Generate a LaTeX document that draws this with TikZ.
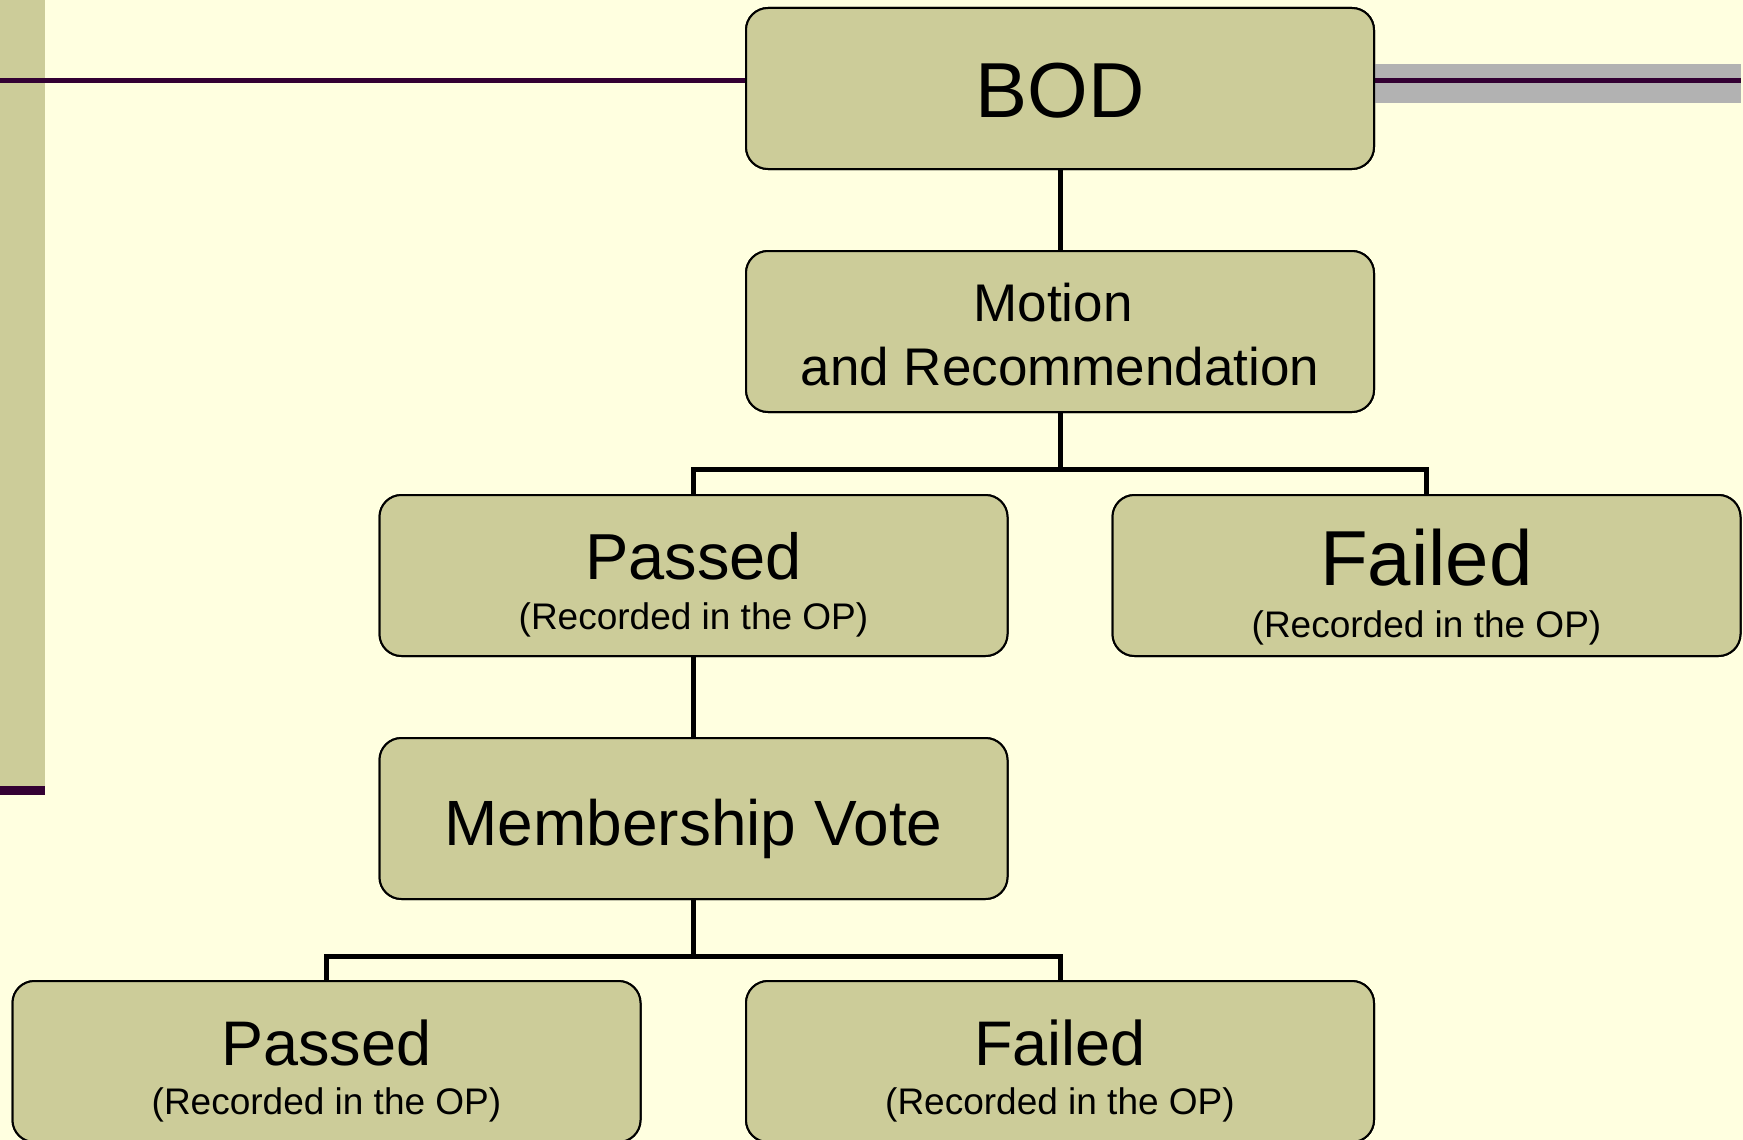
\documentclass[tikz,border=0pt]{standalone}
\usepackage{fontspec}
\setmainfont{Liberation Sans}
\definecolor{bgc}{HTML}{FFFFE0}
\definecolor{olivefill}{HTML}{CCCC99}
\definecolor{plum}{HTML}{330033}
\definecolor{bandgrey}{HTML}{B2B2B2}
\tikzset{
  box/.style={draw=black, line width=2pt, fill=olivefill, rounded corners=22pt,
    minimum width=628pt, minimum height=161pt, inner sep=0pt},
  conn/.style={draw=black, line width=5pt},
  txt/.style={anchor=base, inner sep=0pt, text=black},
  rule/.style={draw=plum, line width=5pt},
}
\newcommand{\fs}[1]{\fontsize{#1}{#1}\selectfont}
\begin{document}
\begin{tikzpicture}[x=1pt, y=-1pt]
\useasboundingbox (0,0) rectangle (1743,1140);
\clip (0,0) rectangle (1743,1140);
\fill[bgc] (0,0) rectangle (1743,1140);
% left decoration
\fill[olivefill] (0,0) rectangle (45,786);
\fill[plum] (0,786) rectangle (45,795);
% boxes (positions)
\node[box] (bod) at (1060,88.5) {};
\node[box] (mot) at (1060,331.5) {};
\node[box] (p1) at (693.5,575.5) {};
\node[box] (f1) at (1426.5,575.5) {};
\node[box] (mv) at (693.5,818.5) {};
\node[box] (p2) at (326.5,1061.5) {};
\node[box] (f2) at (1060,1061.5) {};
% decorative rules
\coordinate (ls) at (0,80.5);
\coordinate (re) at (1741,80.5);
\fill[bandgrey] (1374,64) rectangle (1741,103);
\draw[rule] (ls) -- (ls -| bod.west);
\draw[rule] (re -| bod.east) -- (re);
% connectors
\coordinate (j1) at (1060,469);
\coordinate (j2) at (693.5,956);
\draw[conn] (bod.south) -- (mot.north);
\draw[conn] (mot.south) -- (j1);
\draw[conn] (p1.north) |- (j1) -| (f1.north);
\draw[conn] (p1.south) -- (mv.north);
\draw[conn] (mv.south) -- (j2);
\draw[conn] (p2.north) |- (j2) -| (f2.north);
% redraw boxes on top
\node[box] at (bod.center) {};
\node[box] at (mot.center) {};
\node[box] at (p1.center) {};
\node[box] at (f1.center) {};
\node[box] at (mv.center) {};
\node[box] at (p2.center) {};
\node[box] at (f2.center) {};
% texts
\node[txt] (tbod) at ([yshift=-29pt]bod.center) {\fs{78}BOD};
\node[txt] (tmot1) at ([xshift=-7pt,yshift=10.5pt]mot.center) {\fs{53}Motion};
\node[txt] (tmot2) at ([yshift=-53.5pt]mot.center) {\fs{53}and Recommendation};
\node[txt] (tp1) at ([yshift=-3.5pt]p1.center) {\fs{65}Passed};
\node[txt] (tp1r) at ([yshift=-53.5pt]p1.center) {\fs{37}(Recorded in the OP)};
\node[txt] (tf1) at ([yshift=-9.5pt]f1.center) {\fs{78}Failed};
\node[txt] (tf1r) at ([yshift=-61.5pt]f1.center) {\fs{37}(Recorded in the OP)};
\node[txt] (tmv) at ([yshift=-26.5pt]mv.center) {\fs{64}Membership Vote};
\node[txt] (tp2) at ([yshift=-3.5pt]p2.center) {\fs{63}Passed};
\node[txt] (tp2r) at ([yshift=-52.5pt]p2.center) {\fs{37}(Recorded in the OP)};
\node[txt] (tf2) at ([yshift=-3.5pt]f2.center) {\fs{63}Failed};
\node[txt] (tf2r) at ([yshift=-52.5pt]f2.center) {\fs{37}(Recorded in the OP)};
\end{tikzpicture}
\end{document}
